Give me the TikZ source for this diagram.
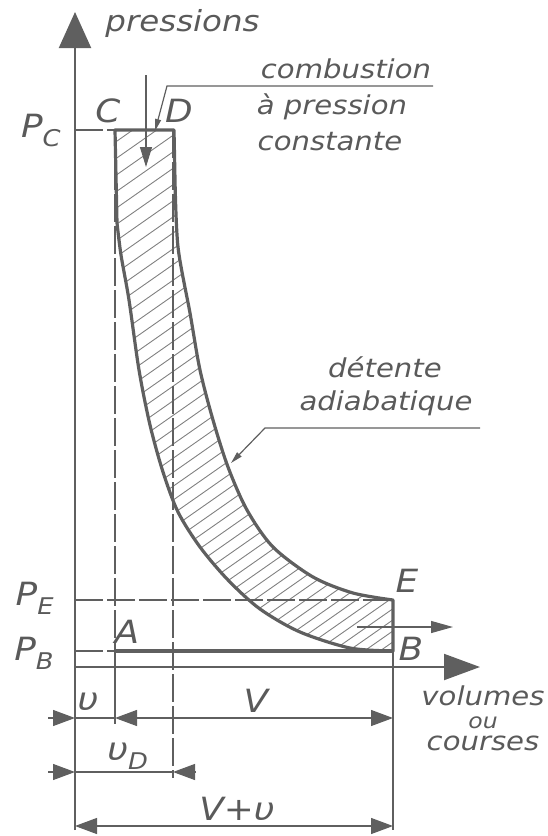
\documentclass[tikz,border=0pt]{standalone}
\usepackage{fontspec}
\usepackage{xcolor}
\usepackage{tikz}
\usetikzlibrary{arrows.meta}
\newfontfamily\dessin{DejaVu Sans}[FakeStretch=1.12, ItalicFont={DejaVu Sans Oblique}]
\newcommand\indice[1]{\raisebox{-0.3em}{\fontsize{11.5}{11.5}\selectfont #1}}
\definecolor{traitgris}{HTML}{5F5F5F}
\definecolor{hachuregris}{HTML}{808080}
\definecolor{textegris}{HTML}{5A5A5A}

\begin{document}
\begin{tikzpicture}[
    x=0.5pt, y=-0.5pt,
    axe/.style={draw=traitgris, line width=1pt},
    contour/.style={draw=traitgris, line width=1.6pt, line join=round},
    rappel/.style={draw=traitgris, line width=0.6pt},
    tirets/.style={draw=traitgris, line width=0.6pt, dash pattern=on 14pt off 2pt},
    hachure/.style={draw=hachuregris, line width=0.45pt},
    cote/.style={rappel, {Triangle[length=11pt,width=8pt]}-{Triangle[length=11pt,width=8pt]}},
    fleche cote/.style={rappel, -{Triangle[length=11pt,width=8pt]}},
    repere/.style={text=textegris, font=\dessin\itshape\fontsize{16}{16}\selectfont, inner sep=0pt},
    legende/.style={text=textegris, font=\dessin\itshape\fontsize{13}{13}\selectfont, inner sep=0pt}
]
\useasboundingbox (0,0) rectangle (547,836);

\coordinate (C) at (115,130);
\coordinate (D) at (174,130);
\coordinate (E) at (393,600);
\coordinate (B) at (393,651);
\coordinate (A) at (115,651);

\path[save path=\cyclechemin] (C) -- (D) -- (175,180)
    -- plot[smooth] coordinates {(175,180) (178,247) (190,313) (200,370) (213,420) (228,467) (247,510) (273,547) (313,577) (353,593) (393,600)}
    -- (E) -- (B)
    -- plot[smooth] coordinates {(393,651) (350,648) (300,632) (260,609) (228,580) (200,547) (178,512) (163,472) (150,425) (139,370) (129,300) (121,255) (117,223)}
    -- (C) -- cycle;

\begin{scope}
  \clip[use path=\cyclechemin];
  \foreach \i [evaluate=\i as \c using 136+17*\i-0.06*\i*\i] in {0,...,56}
    \draw[hachure] (100,\c) -- ++(330,-231);
\end{scope}

\draw[tirets] (75,130) -- (C);
\draw[tirets] (75,600) -- (E);
\draw[tirets] (75,651) -- (A);
\draw[tirets] (C) -- (A);
\draw[rappel] (A) -- (115,724);
\draw[tirets] (173,130) -- (173,778);
\draw[rappel] (B) -- (393,830);

\draw[contour, use path=\cyclechemin];
\draw[contour] (A) -- (B);

\draw[axe, -{Triangle[length=18pt,width=16pt]}] (75,830) -- (75,12);
\draw[axe, -{Triangle[length=18pt,width=13pt]}] (75,667) -- (480,667);

\draw[fleche cote] (48,718) -- (75,718);
\draw[rappel] (75,718) -- (115,718);
\draw[cote] (115,718) -- (393,718);
\draw[fleche cote] (48,772) -- (75,772);
\draw[rappel] (75,772) -- (173,772);
\draw[fleche cote] (196,772) -- (173,772);
\draw[cote] (75,826) -- (393,826);

\coordinate (chaleur) at (146,75);
\coordinate (chaleurfin) at (146,167);
\draw[rappel, -{Triangle[length=10pt,width=6pt]}] (chaleur) -- (chaleurfin);
\coordinate (soul1) at (433,86);
\coordinate (coude1) at (167,86);
\coordinate (pointe1) at (155,131);
\draw[rappel, -{Triangle[length=6pt,width=3pt]}] (soul1) -- (coude1) -- (pointe1);
\coordinate (soul2) at (480,428);
\coordinate (coude2) at (265,428);
\coordinate (pointe2) at (231,463);
\draw[rappel, -{Triangle[length=6pt,width=3pt]}] (soul2) -- (coude2) -- (pointe2);
\coordinate (echap) at (357,627);
\coordinate (echapfin) at (453,627);
\draw[rappel, -{Triangle[length=11pt,width=6pt]}] (echap) -- (echapfin);

\node[legende, anchor=base west, font=\dessin\itshape\fontsize{14.5}{14.5}\selectfont] (pressions) at (105,31) {pressions};
\node[repere, anchor=base east] (pc) at (61,137) {P\indice{C}};
\node[repere, anchor=base east] (pe) at (54,605) {P\indice{E}};
\node[repere, anchor=base east] (pb) at (54,660) {P\indice{B}};
\node[repere, anchor=base] (lc) at (108,122) {C};
\node[repere, anchor=base] (ld) at (179,122) {D};
\node[repere, anchor=base] (la) at (127,643) {A};
\node[repere, anchor=base] (lb) at (411,660) {B};
\node[repere, anchor=base] (le) at (407,592) {E};
\node[legende, anchor=base] (comb) at (346,78) {combustion};
\node[legende, anchor=base] (apress) at (332,114) {à pression};
\node[legende, anchor=base] (const) at (330,150) {constante};
\node[legende, anchor=base] (det) at (385,377) {détente};
\node[legende, anchor=base] (adia) at (386,410) {adiabatique};
\node[legende, anchor=base] (vol) at (483,705) {volumes};
\node[legende, anchor=base, font=\dessin\itshape\fontsize{10.5}{10.5}\selectfont] (ou) at (483,728) {ou};
\node[legende, anchor=base] (cours) at (483,750) {courses};
\node[repere, anchor=base] (pv) at (88,710) {υ};
\node[repere, anchor=base] (gv) at (256,712) {V};
\node[repere, anchor=base west] (vd) at (107,760) {υ\indice{D}};
\node[repere, anchor=base] (vtot) at (237,820) {V+υ};
\end{tikzpicture}
\end{document}
